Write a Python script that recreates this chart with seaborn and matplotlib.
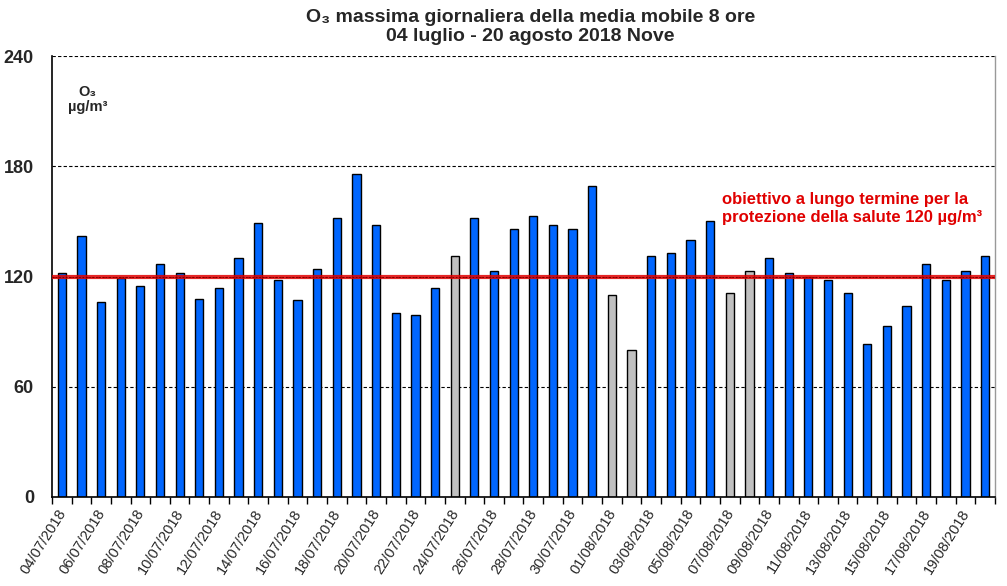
import pandas as pd
import matplotlib
matplotlib.use("Agg")
import matplotlib.pyplot as plt
import matplotlib.transforms as mtransforms
import seaborn as sns

# Dati: massima giornaliera media mobile 8 ore (µg/m3)
dates = pd.date_range("2018-07-04", "2018-08-20", freq="D").strftime("%d/%m/%Y").tolist()
values = [122, 142, 106, 119, 115, 127, 122, 108, 114, 130,
          149, 118, 107, 124, 152, 176, 148, 100, 99, 114,
          131, 152, 123, 146, 153, 148, 146, 169, 110, 80,
          131, 133, 140, 150, 111, 123, 130, 122, 120, 118,
          111, 83, 93, 104, 127, 118, 123, 131]
# giorni con dati non validi / incompleti (barre grigie)
invalid = ["24/07/2018", "01/08/2018", "02/08/2018", "07/08/2018", "08/08/2018"]
status = ["invalid" if d in invalid else "valid" for d in dates]
yticks = [0, 60, 120, 180, 240]
threshold = 120

df = pd.DataFrame({"data": dates, "o3": values, "stato": status})

sns.set_style("white")
plt.rcParams["font.family"] = ["Liberation Sans", "DejaVu Sans"]

fig = plt.figure(figsize=(10.07, 5.86), dpi=100)
ax = fig.add_axes([0.0516, 0.1519, 0.9365, 0.7525])

sns.barplot(data=df, x="data", y="o3", hue="stato", dodge=False, width=0.42,
            palette={"valid": "#0066FF", "invalid": "#C0C0C0"}, saturation=1,
            edgecolor="black", linewidth=1.0, legend=False, ax=ax, zorder=2)

# linee guida tratteggiate
for v in yticks[1:]:
    ax.axhline(v, color="black", lw=0.8, ls=(0, (3, 2)), zorder=1)
# obiettivo a lungo termine
ax.axhline(threshold, color="#E00000", lw=3.0, alpha=0.85, zorder=3)
ax.axhline(threshold, color="#660000", lw=0.6, ls=(0, (2, 2)), zorder=4)

ax.set_ylim(0, 240)
ax.set_xlim(-0.5, len(dates) - 0.5)
ax.set_yticks(yticks)
ax.set_yticklabels([str(v) for v in yticks], fontsize=13, fontweight="bold")
ax.tick_params(axis="y", length=0, pad=13)

ax.set_xticks(range(0, len(dates), 2))
ax.set_xticklabels(dates[::2], rotation=58, ha="right", rotation_mode="anchor",
                   fontsize=10.5)
ax.tick_params(axis="x", which="major", length=0, pad=7)
shift = mtransforms.ScaledTranslation(-5 / 100, 0, fig.dpi_scale_trans)
for lbl in ax.get_xticklabels():
    lbl.set_transform(lbl.get_transform() + shift)
ax.set_xticks([i - 0.5 for i in range(len(dates) + 1)], minor=True)
ax.tick_params(axis="x", which="minor", length=5, width=1, color="black",
               direction="out", bottom=True)

ax.set_xlabel("")
ax.set_ylabel("")
for side in ["left", "bottom"]:
    ax.spines[side].set_color("black")
    ax.spines[side].set_linewidth(1.2)
ax.spines["top"].set_visible(False)
ax.spines["right"].set_color("#999999")
ax.spines["right"].set_linewidth(1.0)

ax.text(0.038, 0.935, "O₃\nµg/m³", transform=ax.transAxes, ha="center",
        va="top", fontsize=10.5, fontweight="bold", linespacing=1.1)
ax.text(0.71, 0.655, "obiettivo a lungo termine per la\nprotezione della salute 120 µg/m³",
        transform=ax.transAxes, ha="left", va="center", color="#E00000",
        fontsize=12, fontweight="bold", linespacing=1.25)

fig.text(0.527, 0.985, "O₃ massima giornaliera della media mobile 8 ore\n04 luglio - 20 agosto 2018 Nove",
         ha="center", va="top", fontsize=14, fontweight="bold", linespacing=1.15)

fig.savefig("out.png", dpi=100)
